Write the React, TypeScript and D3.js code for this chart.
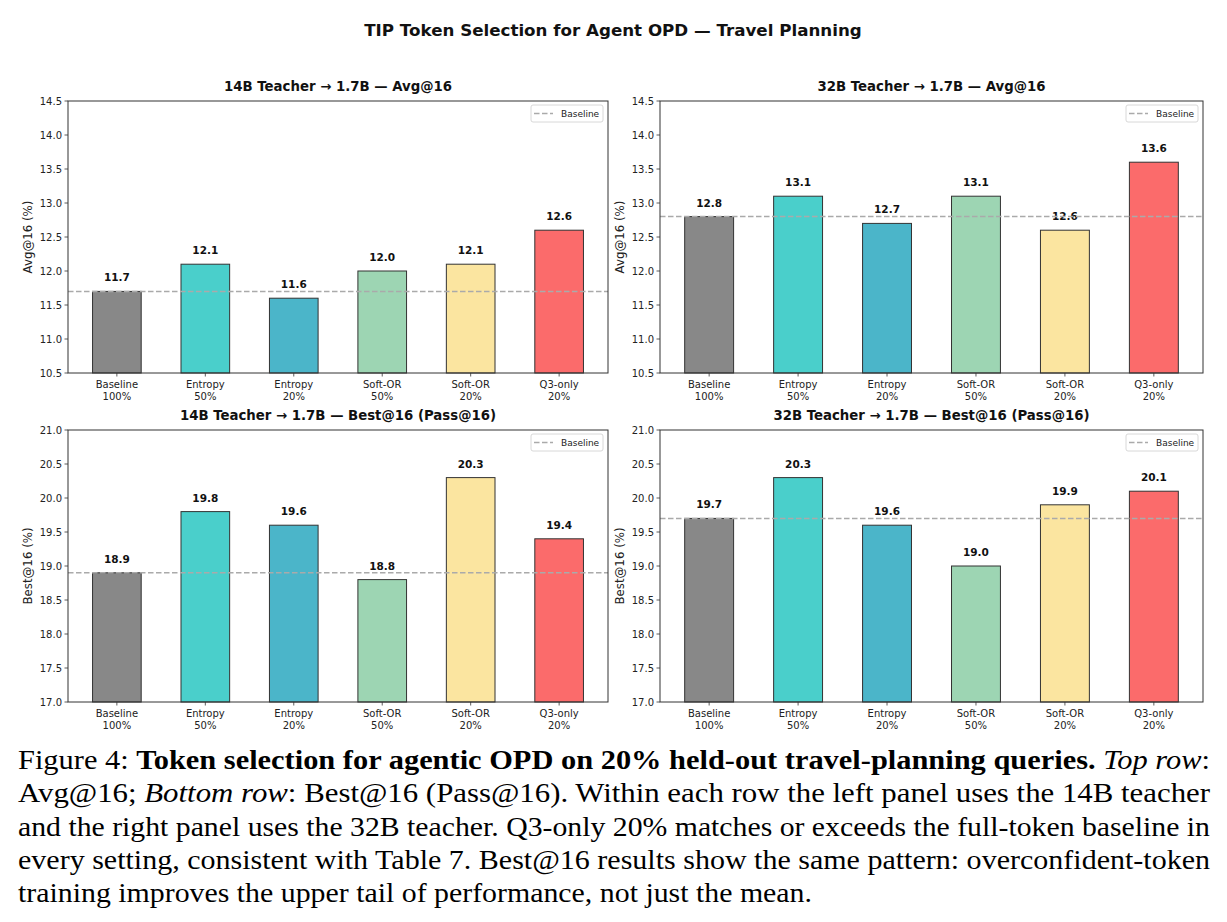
import React from "react";
import * as d3 from "d3";

// Method labels (two lines each) and bar colours
const methodNames = ["Baseline", "Entropy", "Entropy", "Soft-OR", "Soft-OR", "Q3-only"];
const methodRatios = ["100%", "50%", "20%", "50%", "20%", "20%"];
const methodColors = ["#888888", "#4ACFCB", "#4BB5C9", "#9DD5B3", "#FBE5A0", "#FB6B6B"];

// Scores per panel (%)
const avg14B = [11.7, 12.1, 11.6, 12.0, 12.1, 12.6];
const avg32B = [12.8, 13.1, 12.7, 13.1, 12.6, 13.6];
const best14B = [18.9, 19.8, 19.6, 18.8, 20.3, 19.4];
const best32B = [19.7, 20.3, 19.6, 19.0, 19.9, 20.1];

const avgTicks = [10.5, 11.0, 11.5, 12.0, 12.5, 13.0, 13.5, 14.0, 14.5];
const bestTicks = [17.0, 17.5, 18.0, 18.5, 19.0, 19.5, 20.0, 20.5, 21.0];

const SANS = "'DejaVu Sans', Verdana, sans-serif";
const SERIF = "'Liberation Serif', 'Times New Roman', serif";

type PanelProps = {
  x0: number;
  x1: number;
  y0: number;
  y1: number;
  title: string;
  yLabel: string;
  values: number[];
  ticks: number[];
};

function Panel({ x0, x1, y0, y1, title, yLabel, values, ticks }: PanelProps) {
  const barWidth = 0.55;
  const pad = (values.length - 1 + barWidth) * 0.05;
  const xs = d3
    .scaleLinear()
    .domain([-barWidth / 2 - pad, values.length - 1 + barWidth / 2 + pad])
    .range([x0, x1]);
  const ys = d3
    .scaleLinear()
    .domain([ticks[0], ticks[ticks.length - 1]])
    .range([y1, y0]);
  const baseline = values[0];
  const fmt = d3.format(".1f");
  const bw = xs(barWidth) - xs(0);
  const axisColor = "#333";

  return (
    <g>
      <text
        x={(x0 + x1) / 2}
        y={y0 - 10}
        textAnchor="middle"
        fontFamily={SANS}
        fontWeight="bold"
        fontSize={13.3}
        fill="#111"
      >
        {title}
      </text>

      {/* bars */}
      {values.map((v, i) => (
        <rect
          key={"b" + i}
          x={xs(i) - bw / 2}
          y={ys(v)}
          width={bw}
          height={ys(ticks[0]) - ys(v)}
          fill={methodColors[i]}
          stroke="#333"
          strokeWidth={1}
        />
      ))}

      {/* value labels */}
      {values.map((v, i) => (
        <text
          key={"v" + i}
          x={xs(i)}
          y={ys(v) - 10}
          textAnchor="middle"
          fontFamily={SANS}
          fontWeight="bold"
          fontSize={10.5}
          fill="#111"
        >
          {fmt(v)}
        </text>
      ))}

      {/* baseline reference */}
      <line
        x1={x0}
        x2={x1}
        y1={ys(baseline)}
        y2={ys(baseline)}
        stroke="#aaaaaa"
        strokeWidth={1.5}
        strokeDasharray="5.5,2.5"
      />

      {/* frame */}
      <rect x={x0} y={y0} width={x1 - x0} height={y1 - y0} fill="none" stroke={axisColor} strokeWidth={1} />

      {/* y ticks */}
      {ticks.map((t) => (
        <g key={"t" + t}>
          <line x1={x0 - 3.5} x2={x0} y1={ys(t)} y2={ys(t)} stroke={axisColor} strokeWidth={0.8} />
          <text
            x={x0 - 6}
            y={ys(t) + 3.5}
            textAnchor="end"
            fontFamily={SANS}
            fontSize={10}
            fill="#222"
          >
            {fmt(t)}
          </text>
        </g>
      ))}

      {/* x ticks */}
      {values.map((_, i) => (
        <g key={"x" + i}>
          <line x1={xs(i)} x2={xs(i)} y1={y1} y2={y1 + 3.5} stroke={axisColor} strokeWidth={0.8} />
          <text x={xs(i)} y={y1 + 15} textAnchor="middle" fontFamily={SANS} fontSize={10} fill="#222">
            {methodNames[i]}
          </text>
          <text x={xs(i)} y={y1 + 27} textAnchor="middle" fontFamily={SANS} fontSize={10} fill="#222">
            {methodRatios[i]}
          </text>
        </g>
      ))}

      {/* y label */}
      <text
        transform={`translate(${x0 - 36},${(y0 + y1) / 2}) rotate(-90)`}
        textAnchor="middle"
        fontFamily={SANS}
        fontSize={11.8}
        fill="#222"
      >
        {yLabel}
      </text>

      {/* legend */}
      <g transform={`translate(${x1 - 77},${y0 + 4})`}>
        <rect x={0} y={0} width={72} height={17} rx={2} fill="#fff" fillOpacity={0.85} stroke="#d8d8d8" strokeWidth={1} />
        <line x1={3} x2={22} y1={8.5} y2={8.5} stroke="#aaaaaa" strokeWidth={1.5} strokeDasharray="5.5,2.5" />
        <text x={30} y={12} fontFamily={SANS} fontSize={9} fill="#222">
          Baseline
        </text>
      </g>
    </g>
  );
}

export default function App() {
  const left = [68, 608];
  const right = [660, 1203];
  const top = [101, 373];
  const bottom = [430, 702];

  return (
    <svg
      width={1227}
      height={922}
      viewBox="0 0 1227 922"
      style={{ position: "absolute", left: 0, top: 0, background: "#fff" }}
    >
      <rect width={1227} height={922} fill="#fff" />
      <text x={613} y={36} textAnchor="middle" fontFamily={SANS} fontWeight="bold" fontSize={16.7} fill="#111">
        TIP Token Selection for Agent OPD — Travel Planning
      </text>

      <Panel x0={left[0]} x1={left[1]} y0={top[0]} y1={top[1]} title="14B Teacher → 1.7B — Avg@16" yLabel="Avg@16 (%)" values={avg14B} ticks={avgTicks} />
      <Panel x0={right[0]} x1={right[1]} y0={top[0]} y1={top[1]} title="32B Teacher → 1.7B — Avg@16" yLabel="Avg@16 (%)" values={avg32B} ticks={avgTicks} />
      <Panel x0={left[0]} x1={left[1]} y0={bottom[0]} y1={bottom[1]} title="14B Teacher → 1.7B — Best@16 (Pass@16)" yLabel="Best@16 (%)" values={best14B} ticks={bestTicks} />
      <Panel x0={right[0]} x1={right[1]} y0={bottom[0]} y1={bottom[1]} title="32B Teacher → 1.7B — Best@16 (Pass@16)" yLabel="Best@16 (%)" values={best32B} ticks={bestTicks} />

      {/* caption */}
      <g fontFamily={SERIF} fontSize={27} fill="#000">
        <text x={18} y={769} textLength={1192} lengthAdjust="spacingAndGlyphs">
          <tspan>Figure 4: </tspan>
          <tspan fontWeight="bold">Token selection for agentic OPD on 20% held-out travel-planning queries.</tspan>
          <tspan fontStyle="italic"> Top row</tspan>
          <tspan>:</tspan>
        </text>
        <text x={18} y={802} textLength={1192} lengthAdjust="spacingAndGlyphs">
          <tspan>Avg@16; </tspan>
          <tspan fontStyle="italic">Bottom row</tspan>
          <tspan>: Best@16 (Pass@16). Within each row the left panel uses the 14B teacher</tspan>
        </text>
        <text x={18} y={835.5} textLength={1192} lengthAdjust="spacingAndGlyphs">
          and the right panel uses the 32B teacher. Q3-only 20% matches or exceeds the full-token baseline in
        </text>
        <text x={18} y={869} textLength={1192} lengthAdjust="spacingAndGlyphs">
          every setting, consistent with Table 7. Best@16 results show the same pattern: overconfident-token
        </text>
        <text x={18} y={902} textLength={794} lengthAdjust="spacingAndGlyphs">
          training improves the upper tail of performance, not just the mean.
        </text>
      </g>
    </svg>
  );
}
